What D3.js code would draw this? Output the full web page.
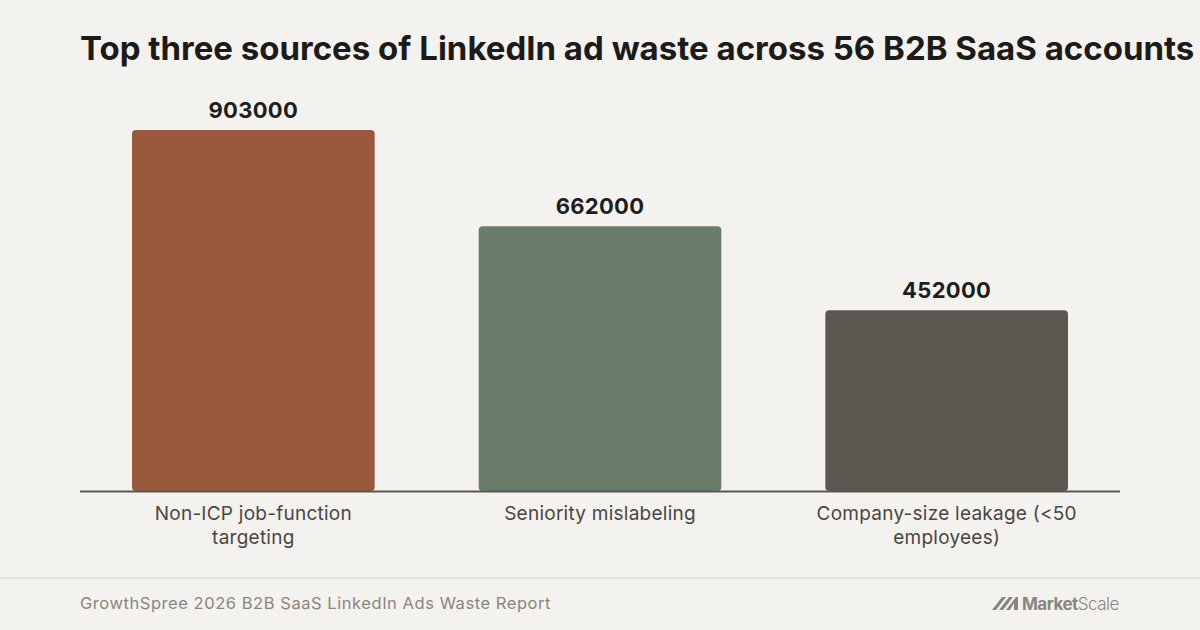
<!DOCTYPE html>
<html>
<head>
<meta charset="utf-8">
<script src="https://cdn.jsdelivr.net/npm/d3@7"></script>
<style>
	html, body { margin: 0; padding: 0; background: #f4f2ee; }
	svg { display: block; }
</style>
</head>
<body>
<div id="chart"></div>
<script>
// data
const categories = ['Non-ICP job-function targeting', 'Seniority mislabeling', 'Company-size leakage (<50 employees)'];
const values = [903000, 662000, 452000];
const colors = ['#9a583c', '#6b7b6a', '#5b5650'];

const title = 'Top three sources of LinkedIn ad waste across 56 B2B SaaS accounts';
const source = 'GrowthSpree 2026 B2B SaaS LinkedIn Ads Waste Report';

const width = 1200;
const height = 630;
const margin = {top: 130, right: 80, bottom: 139, left: 80};

const svg = d3.select('#chart').append('svg')
	.attr('width', width)
	.attr('height', height);

svg.append('rect')
	.attr('width', width)
	.attr('height', height)
	.attr('fill', '#f4f2ee');

// title
svg.append('text')
	.attr('x', 80)
	.attr('y', 60)
	.style('font-family', 'Inter, sans-serif')
	.style('font-weight', 700)
	.style('font-size', '33px')
	.style('letter-spacing', '0px')
	.attr('fill', '#1c1b19')
	.text(title);

const x = d3.scaleBand()
	.domain(categories)
	.range([margin.left, width - margin.right])
	.paddingInner(0.3)
	.paddingOuter(0.15);

const y = d3.scaleLinear()
	.domain([0, d3.max(values)])
	.range([height - margin.bottom, margin.top]);

const data = categories.map((c, i) => ({cat: c, value: values[i], color: colors[i]}));

// bars
svg.selectAll('.bar')
	.data(data)
	.enter().append('rect')
	.attr('class', 'bar')
	.attr('x', d => x(d.cat))
	.attr('y', d => y(d.value))
	.attr('width', x.bandwidth())
	.attr('height', d => y(0) - y(d.value))
	.attr('rx', 4)
	.attr('fill', d => d.color);

// value labels
svg.selectAll('.val')
	.data(data)
	.enter().append('text')
	.attr('class', 'val')
	.attr('x', d => x(d.cat) + x.bandwidth() / 2)
	.attr('y', d => y(d.value) - 12)
	.attr('text-anchor', 'middle')
	.style('font-family', 'Inter, sans-serif')
	.style('font-weight', 700)
	.style('font-size', '22px')
	.style('letter-spacing', '0.3px')
	.attr('fill', '#1f1e1c')
	.text(d => d.value);

// baseline
svg.append('line')
	.attr('x1', margin.left)
	.attr('x2', width - margin.right)
	.attr('y1', y(0) + 0.5)
	.attr('y2', y(0) + 0.5)
	.attr('stroke', '#5b5650')
	.attr('stroke-width', 2);

// category labels, wrapped
const xAxis = d3.axisBottom(x).tickSize(0).tickPadding(0);
const axisG = svg.append('g')
	.attr('transform', `translate(0,${y(0)})`)
	.call(xAxis);
axisG.select('.domain').remove();

const wrap = (sel, maxWidth) => {
	sel.each(function () {
		const text = d3.select(this);
		const words = text.text().split(/\s+/);
		text.text(null);
		let line = [];
		let tspan = text.append('tspan').attr('x', 0).attr('dy', 0);
		words.forEach(w => {
			line.push(w);
			tspan.text(line.join(' '));
			if (tspan.node().getComputedTextLength() > maxWidth && line.length > 1) {
				line.pop();
				tspan.text(line.join(' '));
				line = [w];
				tspan = text.append('tspan').attr('x', 0).attr('dy', '24px').text(w);
			}
		});
	});
};

axisG.selectAll('.tick text')
	.attr('y', 29)
	.attr('dy', 0)
	.style('font-family', 'Inter, sans-serif')
	.style('font-size', '19px')
	.style('letter-spacing', '0.25px')
	.attr('fill', '#4a4641')
	.call(wrap, 275);

// footer
svg.append('line')
	.attr('x1', 0)
	.attr('x2', width)
	.attr('y1', 578)
	.attr('y2', 578)
	.attr('stroke', '#e5e2dc')
	.attr('stroke-width', 2);

svg.append('text')
	.attr('x', 80)
	.attr('y', 608.5)
	.style('font-family', 'Inter, sans-serif')
	.style('font-size', '16.5px')
	.style('letter-spacing', '0.55px')
	.attr('fill', '#8a857f')
	.text(source);

// logo
const logo = svg.append('g').attr('transform', 'translate(992,610)');
logo.append('path')
	.attr('d', 'M0,0 L10,-13 L14,-13 L4,0 Z M7,0 L17,-13 L21,-13 L11,0 Z M14,0 L24,-13 L26,-13 L26,0 L22,0 L22,-7 L18,0 Z')
	.attr('fill', '#8a857f');
const logoText = logo.append('text')
	.attr('x', 30)
	.attr('y', 0)
	.style('font-family', 'Inter, sans-serif')
	.style('font-size', '17px')
	.style('letter-spacing', '-0.5px')
	.attr('fill', '#8a857f');
logoText.append('tspan').style('font-weight', 700).text('Market');
logoText.append('tspan').style('font-weight', 300).text('Scale');
</script>
</body>
</html>
